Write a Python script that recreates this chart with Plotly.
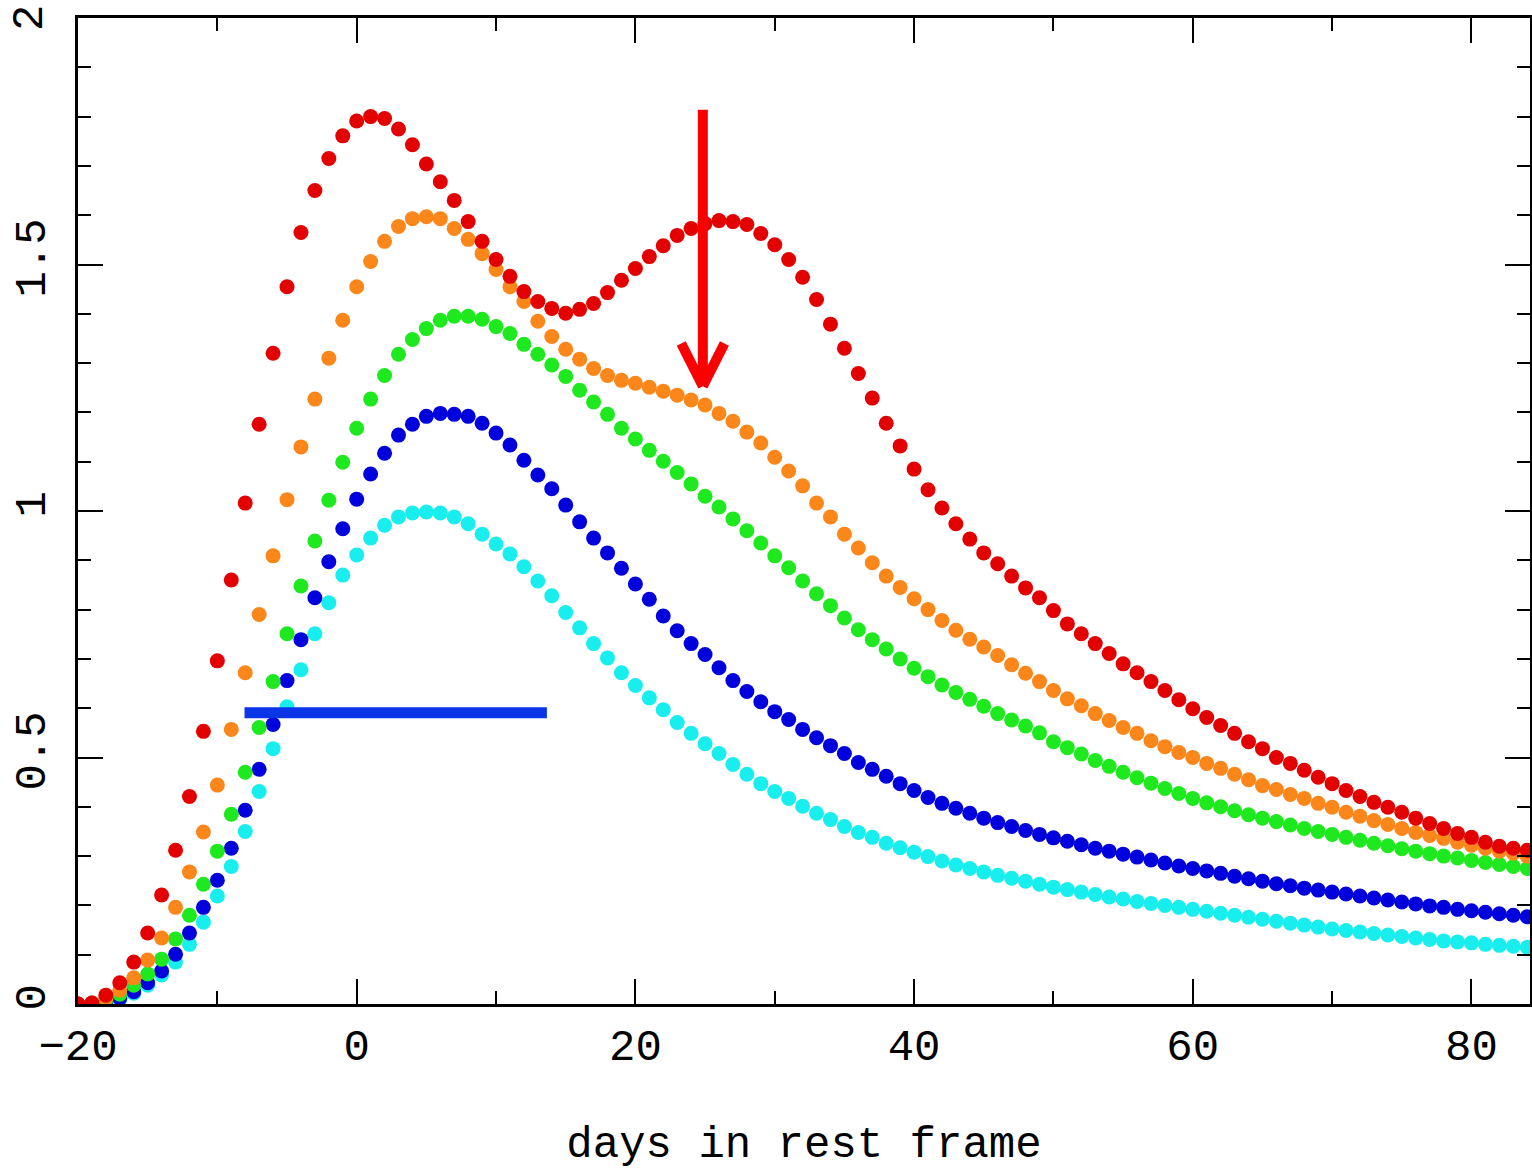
import plotly.graph_objects as go

# ---------------- data ----------------
days = list(range(-20, 85))

red = [0.000, 0.002, 0.018, 0.043, 0.085, 0.144, 0.221, 0.312, 0.421, 0.553,
       0.696, 0.860, 1.016, 1.176, 1.320, 1.455, 1.565, 1.650, 1.715, 1.761,
       1.791, 1.800, 1.796, 1.775, 1.743, 1.704, 1.668, 1.630, 1.587, 1.547,
       1.510, 1.476, 1.445, 1.425, 1.411, 1.401, 1.409, 1.421, 1.443, 1.468,
       1.492, 1.516, 1.538, 1.559, 1.573, 1.583, 1.589, 1.587, 1.581, 1.563,
       1.540, 1.510, 1.474, 1.429, 1.379, 1.330, 1.279, 1.229, 1.178, 1.132,
       1.085, 1.043, 1.006, 0.974, 0.943, 0.915, 0.893, 0.868, 0.844, 0.824,
       0.798, 0.771, 0.751, 0.731, 0.711, 0.690, 0.672, 0.654, 0.636, 0.617,
       0.599, 0.581, 0.565, 0.549, 0.532, 0.518, 0.500, 0.488, 0.474, 0.460,
       0.447, 0.433, 0.421, 0.409, 0.399, 0.389, 0.377, 0.366, 0.356, 0.346,
       0.338, 0.328, 0.320, 0.316, 0.312]

orange = [0.000, 0.002, 0.012, 0.028, 0.053, 0.089, 0.134, 0.196, 0.268, 0.349,
          0.444, 0.557, 0.672, 0.790, 0.909, 1.023, 1.130, 1.227, 1.310, 1.387,
          1.455, 1.506, 1.547, 1.577, 1.593, 1.597, 1.593, 1.573, 1.551, 1.522,
          1.490, 1.455, 1.425, 1.385, 1.354, 1.328, 1.308, 1.289, 1.275, 1.265,
          1.259, 1.251, 1.243, 1.235, 1.225, 1.215, 1.198, 1.182, 1.160, 1.138,
          1.109, 1.081, 1.051, 1.016, 0.988, 0.953, 0.925, 0.895, 0.868, 0.845,
          0.822, 0.800, 0.778, 0.758, 0.740, 0.724, 0.707, 0.688, 0.671, 0.654,
          0.636, 0.619, 0.605, 0.589, 0.575, 0.561, 0.549, 0.534, 0.522, 0.510,
          0.500, 0.488, 0.478, 0.466, 0.455, 0.443, 0.435, 0.425, 0.417, 0.407,
          0.399, 0.389, 0.381, 0.372, 0.364, 0.356, 0.348, 0.342, 0.336, 0.328,
          0.322, 0.316, 0.310, 0.306, 0.300]

green = [0.000, 0.002, 0.008, 0.020, 0.038, 0.061, 0.091, 0.132, 0.180, 0.243,
         0.310, 0.385, 0.470, 0.561, 0.654, 0.751, 0.848, 0.939, 1.022, 1.099,
         1.168, 1.227, 1.275, 1.318, 1.348, 1.370, 1.387, 1.395, 1.395, 1.389,
         1.374, 1.360, 1.338, 1.318, 1.296, 1.273, 1.245, 1.221, 1.196, 1.168,
         1.146, 1.123, 1.101, 1.078, 1.055, 1.030, 1.008, 0.984, 0.960, 0.935,
         0.909, 0.885, 0.858, 0.832, 0.808, 0.783, 0.759, 0.739, 0.720, 0.700,
         0.681, 0.664, 0.647, 0.632, 0.618, 0.604, 0.589, 0.576, 0.564, 0.550,
         0.532, 0.520, 0.507, 0.494, 0.482, 0.470, 0.459, 0.448, 0.437, 0.427,
         0.417, 0.408, 0.400, 0.392, 0.384, 0.377, 0.370, 0.363, 0.356, 0.350,
         0.344, 0.338, 0.332, 0.326, 0.321, 0.315, 0.310, 0.305, 0.300, 0.296,
         0.291, 0.287, 0.283, 0.279, 0.275]

blue = [0.000, 0.001, 0.005, 0.012, 0.025, 0.043, 0.067, 0.101, 0.144, 0.196,
        0.251, 0.316, 0.393, 0.476, 0.567, 0.656, 0.739, 0.824, 0.897, 0.964,
        1.024, 1.075, 1.117, 1.154, 1.176, 1.192, 1.198, 1.196, 1.192, 1.178,
        1.158, 1.134, 1.103, 1.073, 1.045, 1.012, 0.978, 0.945, 0.915, 0.884,
        0.852, 0.821, 0.787, 0.757, 0.731, 0.709, 0.682, 0.656, 0.634, 0.613,
        0.593, 0.577, 0.557, 0.540, 0.524, 0.508, 0.490, 0.476, 0.462, 0.447,
        0.433, 0.419, 0.407, 0.397, 0.387, 0.377, 0.368, 0.360, 0.352, 0.344,
        0.337, 0.330, 0.323, 0.316, 0.310, 0.304, 0.298, 0.292, 0.286, 0.280,
        0.275, 0.270, 0.265, 0.259, 0.254, 0.249, 0.244, 0.240, 0.235, 0.231,
        0.227, 0.223, 0.219, 0.215, 0.211, 0.207, 0.203, 0.199, 0.196, 0.192,
        0.189, 0.186, 0.183, 0.180, 0.177]

cyan = [0.000, 0.001, 0.004, 0.010, 0.022, 0.038, 0.059, 0.085, 0.121, 0.166,
        0.219, 0.279, 0.350, 0.431, 0.518, 0.603, 0.678, 0.751, 0.814, 0.870,
        0.911, 0.945, 0.971, 0.988, 0.996, 0.998, 0.996, 0.988, 0.974, 0.953,
        0.933, 0.913, 0.887, 0.858, 0.828, 0.794, 0.763, 0.731, 0.702, 0.672,
        0.646, 0.621, 0.597, 0.571, 0.549, 0.528, 0.508, 0.486, 0.466, 0.447,
        0.431, 0.417, 0.401, 0.387, 0.374, 0.360, 0.348, 0.338, 0.326, 0.317,
        0.308, 0.299, 0.290, 0.282, 0.275, 0.268, 0.261, 0.255, 0.249, 0.243,
        0.237, 0.232, 0.227, 0.222, 0.217, 0.213, 0.208, 0.204, 0.200, 0.196,
        0.192, 0.188, 0.184, 0.180, 0.176, 0.172, 0.168, 0.164, 0.160, 0.156,
        0.152, 0.149, 0.146, 0.143, 0.140, 0.137, 0.134, 0.131, 0.128, 0.126,
        0.124, 0.121, 0.119, 0.117, 0.115]

series_names = ["cyan", "blue", "green", "orange", "red"]
series_values = [cyan, blue, green, orange, red]
series_colors = ["#18eeee", "#0000dd", "#1ee81e", "#fb861a", "#e20000"]

x_tickvals = [-20, 0, 20, 40, 60, 80]
y_tickvals = [0, 0.5, 1, 1.5]
y_ticktext = ["0", "0.5", "1", "1.5"]
y_top_value = 2
y_top_label = "2"
x_title = "days in rest frame"

# annotation geometry (data coordinates)
bar_x = [-8.05, 13.65]
bar_y = 0.591
arrow_x = 24.84
arrow_top = 1.814
arrow_tip = 1.253
arrow_wing_y = 1.340
arrow_wing_dx = 1.55

# ---------------- figure ----------------
fig = go.Figure()
for name, vals, col in zip(series_names, series_values, series_colors):
    fig.add_trace(go.Scatter(x=days, y=vals, mode="markers", name=name,
                             marker=dict(size=15, color=col, line=dict(width=0)),
                             showlegend=False, cliponaxis=True))

# blue horizontal bar
fig.add_shape(type="line", xref="x", yref="y", x0=bar_x[0], x1=bar_x[1],
              y0=bar_y, y1=bar_y, line=dict(color="#0b36e8", width=11))
# red arrow
arrow_col = "#fa0000"
fig.add_shape(type="line", xref="x", yref="y", x0=arrow_x, x1=arrow_x,
              y0=arrow_top, y1=arrow_tip + 0.01, line=dict(color=arrow_col, width=10))
for s in (-1, 1):
    fig.add_shape(type="line", xref="x", yref="y", x0=arrow_x + s * arrow_wing_dx,
                  y0=arrow_wing_y, x1=arrow_x, y1=arrow_tip,
                  line=dict(color=arrow_col, width=10))

font_fam = "Liberation Mono"
axis_common = dict(showline=True, linewidth=2.5, linecolor="black", mirror="allticks",
                   ticks="inside", tickwidth=2, tickcolor="black", ticklen=25,
                   showgrid=False, zeroline=False,
                   tickfont=dict(family=font_fam, size=44, color="black"))

fig.update_xaxes(range=[-20, 84.2], tickmode="array", tickvals=x_tickvals,
                 minor=dict(ticks="inside", dtick=10, tick0=0, ticklen=13, tickwidth=2,
                            tickcolor="black", showgrid=False),
                 ticklabelstandoff=0,
                 title=dict(text=x_title, font=dict(family=font_fam, size=44, color="black"),
                            standoff=72),
                 **axis_common)
fig.update_yaxes(range=[0, 2], tickmode="array", tickvals=y_tickvals,
                 ticktext=y_ticktext, tickangle=-90,
                 minor=dict(ticks="inside", dtick=0.1, tick0=0, ticklen=13, tickwidth=2,
                            tickcolor="black", showgrid=False),
                 ticklabelstandoff=13,
                 **axis_common)

# top y tick label (sits at the very edge of the frame)
fig.add_annotation(xref="paper", yref="y", x=0, y=y_top_value, text=y_top_label,
                   textangle=-90, showarrow=False, xanchor="center", yanchor="middle",
                   xshift=-48, font=dict(family=font_fam, size=44, color="black"))

fig.update_layout(width=1532, height=1170,
                  margin=dict(l=78, r=2, t=18, b=166, autoexpand=False),
                  paper_bgcolor="white", plot_bgcolor="white")

fig.write_html("out.html")
